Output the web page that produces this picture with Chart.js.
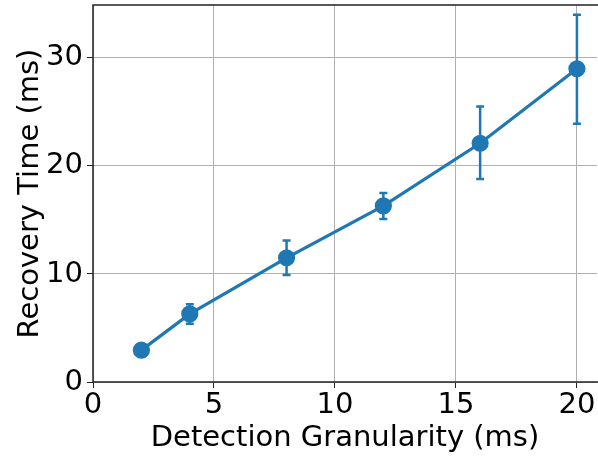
<!DOCTYPE html>
<html>
<head>
<meta charset="utf-8">
<script src="https://cdn.jsdelivr.net/npm/chart.js@4/dist/chart.umd.min.js"></script>
<style>
  html, body { margin: 0; padding: 0; background: #fff; }
  #wrap { width: 598px; height: 457px; }
</style>
</head>
<body>
<div id="wrap"><canvas id="chart" width="598" height="457"></canvas></div>
<script>
// --- Data ---
const granularity = [2, 4, 8, 12, 16, 20];
const recoveryMean = [2.95, 6.3, 11.5, 16.3, 22.1, 29.0];
const recoveryLow = [2.9, 5.4, 9.9, 15.1, 18.8, 23.9];
const recoveryHigh = [3.0, 7.2, 13.1, 17.5, 25.5, 34.0];
const xTicks = [0, 5, 10, 15, 20];
const yTicks = [0, 10, 20, 30];

const blue = '#1f77b4';
const font = "'DejaVu Sans', sans-serif";

// error bars + spines drawn through the chart's own scales
const errorBars = {
    id: 'errorBars',
    beforeDatasetsDraw(chart) {
        const ctx = chart.ctx;
        const xs = chart.scales.x, ys = chart.scales.y;
        ctx.save();
        ctx.strokeStyle = blue;
        ctx.lineWidth = 2.5;
        granularity.forEach((g, i) => {
            if (recoveryHigh[i] - recoveryLow[i] < 0.3) return;
            const px = xs.getPixelForValue(g);
            const top = ys.getPixelForValue(recoveryHigh[i]);
            const bot = ys.getPixelForValue(recoveryLow[i]);
            ctx.beginPath();
            ctx.moveTo(px, top); ctx.lineTo(px, bot);
            ctx.moveTo(px - 4, top); ctx.lineTo(px + 4, top);
            ctx.moveTo(px - 4, bot); ctx.lineTo(px + 4, bot);
            ctx.stroke();
        });
        ctx.restore();
    },
    afterDraw(chart) {
        const a = chart.chartArea, ctx = chart.ctx;
        ctx.save();
        ctx.strokeStyle = '#222';
        ctx.lineWidth = 1.5;
        ctx.beginPath();
        ctx.moveTo(chart.width, a.top);
        ctx.lineTo(a.left, a.top);
        ctx.lineTo(a.left, a.bottom);
        ctx.lineTo(chart.width, a.bottom);
        ctx.stroke();
        ctx.restore();
    }
};

function useTicks(list) {
    return function(scale) {
        scale.ticks = list.map(v => ({ value: v }));
    };
}

new Chart(document.getElementById('chart').getContext('2d'), {
    type: 'line',
    data: {
        datasets: [{
            data: granularity.map((g, i) => ({ x: g, y: recoveryMean[i] })),
            borderColor: blue,
            backgroundColor: blue,
            borderWidth: 3.2,
            pointRadius: 7,
            pointHoverRadius: 7,
            tension: 0
        }]
    },
    options: {
        responsive: false,
        animation: false,
        layout: { autoPadding: false, padding: { top: 5, right: 1, left: 0, bottom: 0 } },
        plugins: { legend: { display: false }, tooltip: { enabled: false } },
        scales: {
            x: {
                type: 'linear',
                min: 0,
                max: 20.83,
                afterBuildTicks: useTicks(xTicks),
                afterFit(scale) {
                    scale.height = 75;
                    scale.paddingLeft = 0; scale.paddingRight = 0;
                },
                grid: { color: '#b0b0b0', lineWidth: 1, tickLength: 6, tickColor: '#222' },
                border: { display: false },
                ticks: { color: '#000', font: { family: font, size: 29 }, padding: 0, maxRotation: 0 },
                title: { display: true, text: 'Detection Granularity (ms)', color: '#000',
                         font: { family: font, size: 29 }, padding: { top: 1, bottom: 1 } }
            },
            y: {
                min: 0,
                max: 34.9,
                afterBuildTicks: useTicks(yTicks),
                afterFit(scale) {
                    scale.width = 93;
                    scale.paddingTop = 0; scale.paddingBottom = 0;
                },
                grid: { color: '#b0b0b0', lineWidth: 1, tickLength: 6, tickColor: '#222' },
                border: { display: false },
                ticks: { color: '#000', font: { family: font, size: 29 }, padding: 4 },
                title: { display: true, text: 'Recovery Time (ms)', color: '#000',
                         font: { family: font, size: 29 }, padding: { top: 13, bottom: 0 } }
            }
        }
    },
    plugins: [errorBars]
});
</script>
</body>
</html>
